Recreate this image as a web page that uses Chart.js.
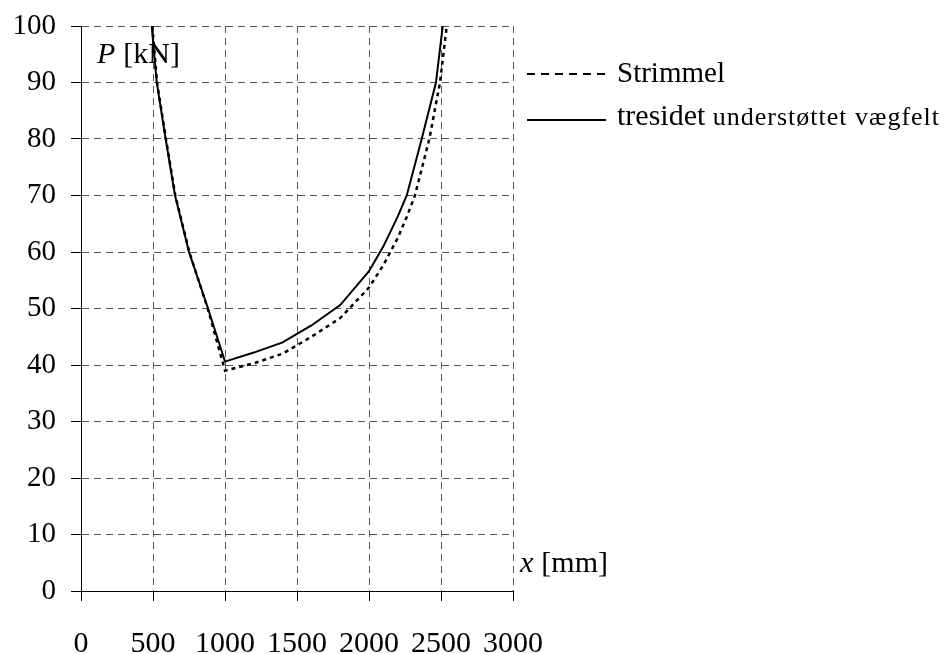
<!DOCTYPE html>
<html>
<head>
<meta charset="utf-8">
<script src="https://cdn.jsdelivr.net/npm/chart.js@4"></script>
<style>
  html, body { margin: 0; padding: 0; background: #fff; }
  #wrap { width: 947px; height: 654px; }
</style>
</head>
<body>
<div id="wrap"><canvas id="plot" width="947" height="654"></canvas></div>
<script>
// x positions (mm) and load P (kN)
const strimmelX = [495, 528, 590, 655, 752, 880, 1000, 1200, 1400, 1600, 1800, 2000, 2100, 2200, 2262, 2319, 2419, 2493, 2540];
const strimmelP = [100, 90, 80, 70, 60, 50, 39, 40.3, 42, 45, 48.3, 53.7, 57.7, 62.5, 66.2, 70, 80, 90, 100];
const tresidetX = [491, 526, 588, 653, 750, 882, 1000, 1200, 1400, 1600, 1800, 2000, 2100, 2200, 2262, 2366, 2465, 2512];
const tresidetP = [100, 90, 80, 70, 60, 50, 40.6, 42.2, 44, 47, 50.6, 56.6, 61, 66.3, 70, 80, 90, 100];

const xTicks = [0, 500, 1000, 1500, 2000, 2500, 3000];
const yTicks = [0, 10, 20, 30, 40, 50, 60, 70, 80, 90, 100];

const SERIF = '"Liberation Serif", "Times New Roman", serif';

const pts = (xs, ys) => xs.map((x, i) => ({ x: x, y: ys[i] }));

// axis titles and the legend at the right of the plot
const annotate = {
  id: 'annotate',
  afterDraw(chart) {
    const ctx = chart.ctx;
    const area = chart.chartArea;
    const ds = chart.data.datasets;
    ctx.save();
    ctx.fillStyle = '#000';
    ctx.textBaseline = 'alphabetic';
    ctx.textAlign = 'left';

    // P [kN]
    let x = area.left + 16, y = area.top + 37;
    ctx.font = 'italic 30px ' + SERIF;
    ctx.fillText('P', x, y);
    x += ctx.measureText('P').width + 8;
    ctx.font = '30px ' + SERIF;
    ctx.fillText('[kN]', x, y);

    // x [mm]
    x = area.right + 7; y = area.bottom - 19;
    ctx.font = 'italic 30px ' + SERIF;
    ctx.fillText('x', x, y);
    x += ctx.measureText('x').width + 8;
    ctx.font = '30px ' + SERIF;
    ctx.fillText('[mm]', x, y);

    // legend
    const rows = [
      { set: ds[0], y: 74, base: 82, parts: [['Strimmel', 29, 0]] },
      { set: ds[1], y: 120, base: 125, parts: [['tresidet ', 30, 0], ['understøttet vægfelt', 26, 1]] }
    ];
    rows.forEach((r) => {
      ctx.strokeStyle = r.set.borderColor;
      ctx.lineWidth = 2;
      ctx.setLineDash(r.set.borderDash && r.set.borderDash.length ? [8, 6] : []);
      ctx.beginPath();
      ctx.moveTo(area.right + 14, r.y);
      ctx.lineTo(area.right + 93, r.y);
      ctx.stroke();
      let tx = area.right + 104;
      r.parts.forEach(([txt, size, spacing]) => {
        ctx.font = size + 'px ' + SERIF;
        ctx.letterSpacing = spacing + 'px';
        ctx.fillText(txt, tx, r.base);
        tx += ctx.measureText(txt).width;
      });
      ctx.letterSpacing = '0px';
    });
    ctx.restore();
  }
};

const gridStyle = {
  color: '#555',
  lineWidth: 1,
  tickColor: '#000',
  tickLength: 10,
  tickBorderDash: [],
  drawOnChartArea: true
};

new Chart(document.getElementById('plot'), {
  type: 'scatter',
  data: {
    datasets: [
      {
        label: 'Strimmel',
        data: pts(strimmelX, strimmelP),
        showLine: true,
        borderColor: '#000',
        borderWidth: 2.5,
        borderDash: [4, 4],
        pointRadius: 0,
        tension: 0
      },
      {
        label: 'tresidet understøttet vægfelt',
        data: pts(tresidetX, tresidetP),
        showLine: true,
        borderColor: '#000',
        borderWidth: 2,
        borderDash: [],
        pointRadius: 0,
        tension: 0
      }
    ]
  },
  options: {
    responsive: false,
    animation: false,
    layout: { padding: { left: 0, right: 434, top: 26, bottom: 0 } },
    plugins: {
      legend: { display: false },
      tooltip: { enabled: false }
    },
    scales: {
      x: {
        type: 'linear',
        min: 0,
        max: 3000,
        afterBuildTicks: (s) => { s.ticks = xTicks.map((v) => ({ value: v })); },
        afterFit: (s) => { s.height = 63; s.paddingLeft = 0; s.paddingRight = 0; },
        border: { display: true, color: '#000', width: 1, dash: [7, 5] },
        grid: gridStyle,
        ticks: {
          color: '#000',
          padding: 25,
          maxRotation: 0,
          autoSkip: false,
          font: { family: SERIF, size: 30 },
          callback: (v) => String(v)
        }
      },
      y: {
        min: 0,
        max: 100,
        afterBuildTicks: (s) => { s.ticks = yTicks.map((v) => ({ value: v })); },
        afterFit: (s) => { s.width = 81; s.paddingTop = 0; s.paddingBottom = 0; },
        border: { display: true, color: '#000', width: 1, dash: [7, 5] },
        grid: gridStyle,
        ticks: {
          color: '#000',
          padding: 15,
          autoSkip: false,
          font: { family: SERIF, size: 29 },
          callback: (v) => String(v)
        }
      }
    }
  },
  plugins: [annotate]
});
</script>
</body>
</html>
